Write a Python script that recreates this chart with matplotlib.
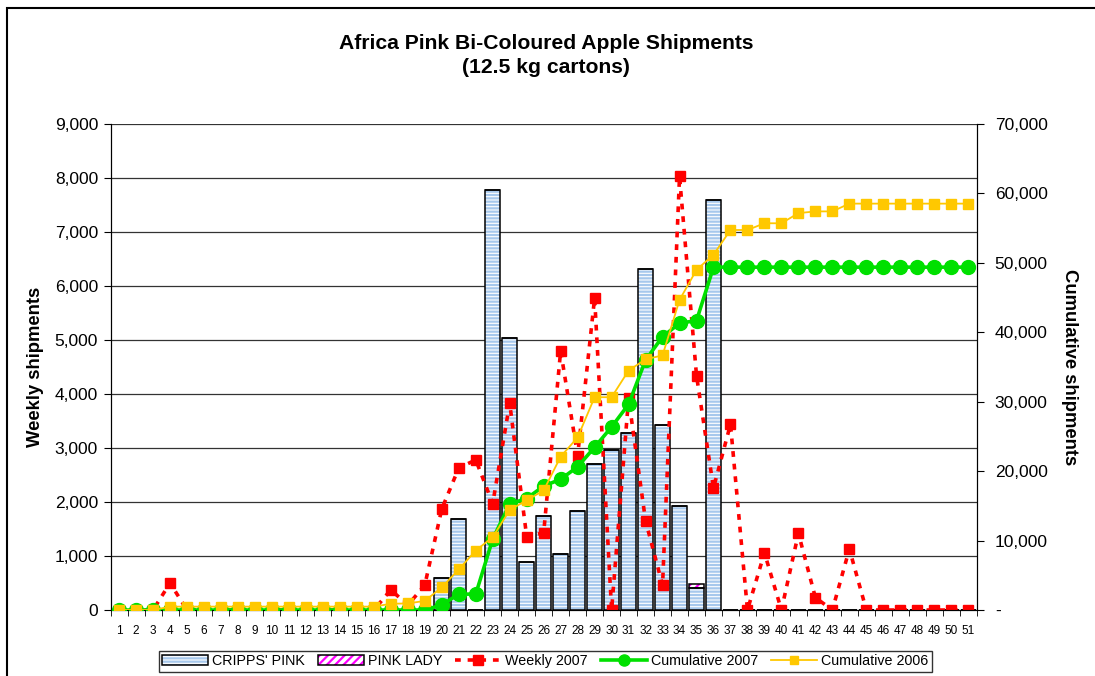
import matplotlib.pyplot as plt
import numpy as np
from matplotlib.patches import Patch, Rectangle
from matplotlib.lines import Line2D
from matplotlib.legend_handler import HandlerTuple
from matplotlib.ticker import FuncFormatter

plt.rcParams['font.family'] = ['Liberation Sans', 'DejaVu Sans']
plt.rcParams['hatch.linewidth'] = 1.6

weeks = np.arange(1, 52)

# weekly 2007 bars (cartons)
cripps_pink = [0]*19 + [600, 1680, 0, 7780, 5030, 880, 1750, 1030, 1840, 2710,
                        2960, 3280, 6320, 3430, 1920, 400, 7600] + [0]*15
pink_lady = [0]*34 + [75] + [0]*16

# red dotted series
weekly_2007 = [0, 0, 0, 500] + [0]*12 + [375, 90, 460, 1870, 2630, 2780, 1970,
               3830, 1360, 1430, 4800, 2860, 5780, 0, 3920, 1650, 460, 8030,
               4340, 2260, 3440, 0, 1060, 0, 1420, 230, 0, 1130] + [0]*7

cumulative_2007 = [0]*19 + [730, 2290, 2290, 10220, 15280, 16060, 17860, 18830,
                            20630, 23450, 26370, 29630, 36000, 39360, 41300,
                            41690] + [49380]*16

cumulative_2006 = [0, 0, 0] + [490]*13 + [900, 950, 1310, 3260, 5840, 8560,
                   10510, 14400, 15810, 17220, 22090, 24860, 30650, 30650,
                   34490, 36100, 36680, 44660, 48990, 51180, 54730, 54730,
                   55700, 55700, 57160, 57410, 57410] + [58530]*8

left_ticks = np.arange(0, 9001, 1000)
right_ticks = np.arange(0, 70001, 10000)

fig = plt.figure(figsize=(10.95, 6.76), dpi=100)
ax = fig.add_axes([0.101, 0.0976, 0.791, 0.719])
ax2 = ax.twinx()

# outer chart frame
fig.add_artist(Rectangle((7/1095, -0.2), 1.2, 1.2 - 8/676, transform=fig.transFigure,
                         fill=False, edgecolor='black', lw=1.5))

bw = 0.86
blue_stripes = '#a7c8ec'
red_dash = (0, (1.6, 1.9))
ax.bar(weeks, cripps_pink, bw, color='white', edgecolor=blue_stripes, hatch='-----', lw=0, zorder=2)
ax.bar(weeks, cripps_pink, bw, fill=False, edgecolor='black', lw=1.1, zorder=3)
ax.bar(weeks, pink_lady, bw, bottom=cripps_pink, color='white', edgecolor='#ff00ff',
       hatch='////', lw=0, zorder=2)
ax.bar(weeks, pink_lady, bw, bottom=cripps_pink, fill=False, edgecolor='black', lw=1.1, zorder=3)

ax.plot(weeks, weekly_2007, color='#ff0000', lw=2.6, ls=red_dash,
        marker='s', ms=7, zorder=4)

ax2.plot(weeks, cumulative_2007, color='#00e000', lw=2.6, marker='o', ms=10, zorder=4)
ax2.plot(weeks, cumulative_2006, color='#ffc800', lw=1.3, marker='s', ms=7, zorder=5)

ax.set_xlim(0.5, 51.5)
ax.set_ylim(0, 9000)
ax2.set_ylim(0, 70000)
ax.set_yticks(left_ticks)
ax2.set_yticks(right_ticks)
ax.yaxis.set_major_formatter(FuncFormatter(lambda v, p: f'{int(v):,}'))
ax2.yaxis.set_major_formatter(FuncFormatter(lambda v, p: '-' if v == 0 else f'{int(v):,}'))

ax.set_xticks(weeks)
ax.set_xticks(np.arange(0.5, 52, 1), minor=True)
ax.tick_params(axis='x', which='major', length=0, labelsize=8.5, pad=11)
ax.tick_params(axis='x', which='minor', length=4, direction='out')
ax.tick_params(axis='y', length=5, labelsize=12.5, pad=4)
ax2.tick_params(axis='y', length=5, labelsize=12.5, pad=8)

ax.grid(axis='y', color='#333333', lw=0.9, zorder=0)
ax.set_axisbelow(True)
for sp in ax.spines.values():
    sp.set_color('black')
ax2.spines['top'].set_visible(False)
ax.spines['top'].set_visible(False)

ax.set_ylabel('Weekly shipments', fontsize=13.3, fontweight='bold', labelpad=8)
ax2.set_ylabel('Cumulative shipments', fontsize=13.3, fontweight='bold', rotation=270, labelpad=22)

fig.text(0.4985, 0.918, 'Africa Pink Bi-Coloured Apple Shipments\n(12.5 kg cartons)',
         ha='center', va='center', fontsize=15.2, fontweight='bold', linespacing=1.3)

h_cripps = (Patch(facecolor='white', edgecolor=blue_stripes, hatch='-----', lw=0),
            Patch(fill=False, edgecolor='black', lw=1.1))
h_pink = (Patch(facecolor='white', edgecolor='#ff00ff', hatch='////', lw=0),
          Patch(fill=False, edgecolor='black', lw=1.1))
h_weekly = Line2D([], [], color='#ff0000', lw=2.6, ls=red_dash, marker='s', ms=7)
h_c07 = Line2D([], [], color='#00e000', lw=2.6, marker='o', ms=8)
h_c06 = Line2D([], [], color='#ffc800', lw=1.3, marker='s', ms=6)
leg = fig.legend([h_cripps, h_pink, h_weekly, h_c07, h_c06],
                 ["CRIPPS' PINK", 'PINK LADY', 'Weekly 2007', 'Cumulative 2007', 'Cumulative 2006'],
                 handler_map={tuple: HandlerTuple(ndivide=1)},
                 loc='center', bbox_to_anchor=(0.498, 0.022), ncol=5, fontsize=10.3,
                 frameon=True, fancybox=False, edgecolor='black', handlelength=3.2,
                 handletextpad=0.3, columnspacing=0.9, borderpad=0.25)
leg.get_frame().set_linewidth(1.0)

fig.savefig('out.png', dpi=100)
